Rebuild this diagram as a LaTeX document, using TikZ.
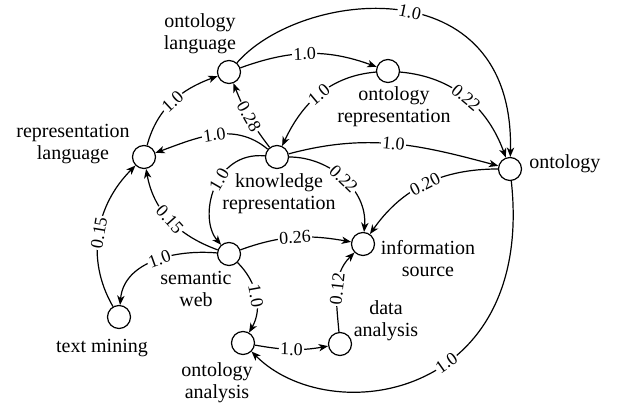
\documentclass[tikz,border=0pt]{standalone}
\usepackage{fontspec}
\setmainfont{Liberation Serif}
\usetikzlibrary{arrows.meta}
\begin{document}
\begin{tikzpicture}[x=0.75pt,y=0.75pt,
  vtx/.style={circle,draw,line width=0.9pt,minimum size=17.25pt,inner sep=0pt},
  lbl/.style={font=\fontsize{15}{16.5}\selectfont,align=center,inner sep=0pt},
  edge/.style={line width=0.9pt,-{Stealth[length=7pt,width=5.5pt,inset=2pt]}},
  wt/.style={font=\fontsize{13.5}{13.5}\selectfont,sloped,fill=white,inner sep=1pt}]
\useasboundingbox (0,0) rectangle (619,403);
\fill[white] (0,0) rectangle (619,403);
% vertices
\node[vtx] (ol)  at (229,331) {};
\node[vtx] (or)  at (388,332) {};
\node[vtx] (ont) at (510,234) {};
\node[vtx] (rl)  at (144,246) {};
\node[vtx] (kr)  at (277,246) {};
\node[vtx] (is)  at (363,159) {};
\node[vtx] (sw)  at (229,149) {};
\node[vtx] (tm)  at (119,86) {};
\node[vtx] (oa)  at (243,60) {};
\node[vtx] (da)  at (340,59) {};
% texts
\node[lbl] (tol)  at (200,369) {ontology\\language};
\node[lbl] (tor)  at (394,296) {ontology\\representation};
\node[lbl,anchor=west] (tont) at (529,239) {ontology};
\node[lbl] (trl)  at (73,259) {representation\\language};
\node[lbl] (tkr)  at (279,209) {knowledge\\representation};
\node[lbl] (tis)  at (428,144) {information\\source};
\node[lbl] (tsw)  at (196,114) {semantic\\web};
\node[lbl] (ttm)  at (102,55) {text mining};
\node[lbl] (toa)  at (217,20) {ontology\\analysis};
\node[lbl] (tda)  at (386,82) {data\\analysis};
% edges
\draw[edge] (rl) to[out=75,in=200] node[wt]{1.0} (ol);
\draw[edge] (ol) to[out=20,in=160] node[wt,pos=0.47]{1.0} (or);
\draw[edge] (ol) .. controls (300,413) and (515,438) .. node[wt,pos=0.53]{1.0} (ont);
\draw[edge] (or) to[out=185,in=65] node[wt]{1.0} (kr);
\draw[edge] (or) to[out=-5,in=110] node[wt]{0.22} (ont);
\draw[edge] (kr) to[bend left=8] node[wt]{0.28} (ol);
\draw[edge] (kr) to[out=140,in=20] node[wt]{1.0} (rl);
\draw[edge] (kr) to[out=15,in=165] node[wt]{1.0} (ont);
\draw[edge] (kr) to[out=0,in=85] node[wt]{0.22} (is);
\draw[edge] (kr) .. controls (213,252) and (198,185) .. node[wt,pos=0.42]{1.0} (sw);
\draw[edge] (ont) to[out=180,in=55] node[wt]{0.20} (is);
\draw[edge] (sw) to[out=160,in=-80] node[wt]{0.15} (rl);
\draw[edge] (tm) to[out=120,in=225] node[wt]{0.15} (rl);
\draw[edge] (sw) to[out=175,in=85] node[wt,pos=0.45]{1.0} (tm);
\draw[edge] (sw) to[out=20,in=170] node[wt]{0.26} (is);
\draw[edge] (sw) to[out=-45,in=60] node[wt]{1.0} (oa);
\draw[edge] (oa) to[out=-10,in=190] node[wt]{1.0} (da);
\draw[edge] (da) to[out=95,in=225] node[wt]{0.12} (is);
\draw[edge] (ont) .. controls (535,3) and (330,-27) .. node[wt,pos=0.42]{1.0} (oa);
\end{tikzpicture}
\end{document}
